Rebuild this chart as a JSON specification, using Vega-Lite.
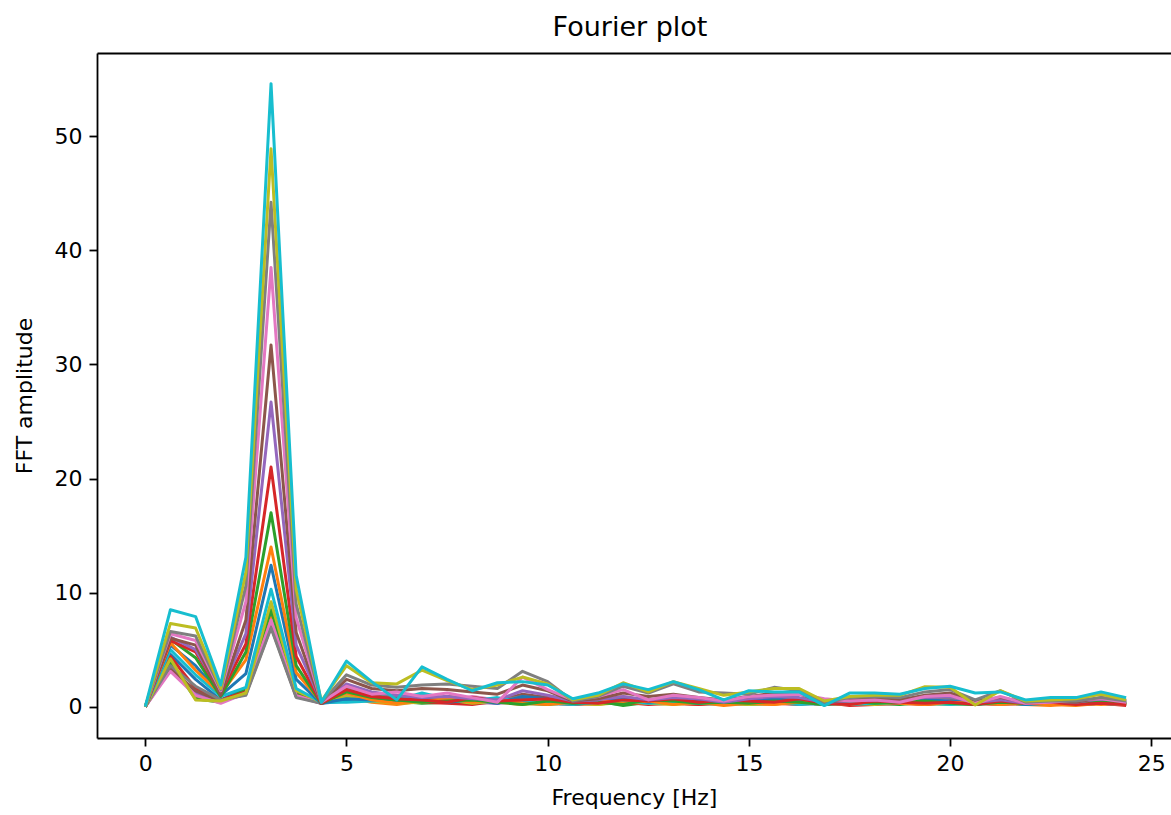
{
"$schema":"https://vega.github.io/schema/vega-lite/v6.json",
"width":1074,"height":685,
"autosize":{"type":"none"},
"padding":{"left":97,"top":53,"right":0,"bottom":77},
"background":"white",
"title":{"text":"Fourier plot","font":"DejaVu Sans","fontSize":27,"fontWeight":"normal","color":"#000","offset":11,"dx":-4},
"data":{"values":[
{"run":1,"freq":0,"amp":0},{"run":1,"freq":0.625,"amp":4.6},{"run":1,"freq":1.25,"amp":2.4},{"run":1,"freq":1.875,"amp":0.6},{"run":1,"freq":2.5,"amp":1.6},{"run":1,"freq":3.125,"amp":8.0},{"run":1,"freq":3.75,"amp":1.3},{"run":1,"freq":4.375,"amp":0.3},
{"run":1,"freq":5,"amp":0.5},{"run":1,"freq":5.625,"amp":0.7},{"run":1,"freq":6.25,"amp":0.3},{"run":1,"freq":6.875,"amp":0.6},{"run":1,"freq":7.5,"amp":0.4},{"run":1,"freq":8.125,"amp":0.5},{"run":1,"freq":8.75,"amp":0.3},{"run":1,"freq":9.375,"amp":0.8},
{"run":1,"freq":10,"amp":0.5},{"run":1,"freq":10.625,"amp":0.2},{"run":1,"freq":11.25,"amp":0.4},{"run":1,"freq":11.875,"amp":0.6},{"run":1,"freq":12.5,"amp":0.3},{"run":1,"freq":13.125,"amp":0.5},{"run":1,"freq":13.75,"amp":0.4},{"run":1,"freq":14.375,"amp":0.2},
{"run":1,"freq":15,"amp":0.5},{"run":1,"freq":15.625,"amp":0.6},{"run":1,"freq":16.25,"amp":0.4},{"run":1,"freq":16.875,"amp":0.2},{"run":1,"freq":17.5,"amp":0.3},{"run":1,"freq":18.125,"amp":0.4},{"run":1,"freq":18.75,"amp":0.3},{"run":1,"freq":19.375,"amp":0.5},
{"run":1,"freq":20,"amp":0.6},{"run":1,"freq":20.625,"amp":0.2},{"run":1,"freq":21.25,"amp":0.4},{"run":1,"freq":21.875,"amp":0.2},{"run":1,"freq":22.5,"amp":0.3},{"run":1,"freq":23.125,"amp":0.3},{"run":1,"freq":23.75,"amp":0.5},{"run":1,"freq":24.375,"amp":0.3},
{"run":2,"freq":0,"amp":0},{"run":2,"freq":0.625,"amp":4.0},{"run":2,"freq":1.25,"amp":0.8},{"run":2,"freq":1.875,"amp":0.5},{"run":2,"freq":2.5,"amp":1.4},{"run":2,"freq":3.125,"amp":7.8},{"run":2,"freq":3.75,"amp":1.1},{"run":2,"freq":4.375,"amp":0.4},
{"run":2,"freq":5,"amp":0.8},{"run":2,"freq":5.625,"amp":0.4},{"run":2,"freq":6.25,"amp":0.2},{"run":2,"freq":6.875,"amp":0.5},{"run":2,"freq":7.5,"amp":0.6},{"run":2,"freq":8.125,"amp":0.3},{"run":2,"freq":8.75,"amp":0.4},{"run":2,"freq":9.375,"amp":0.2},
{"run":2,"freq":10,"amp":0.6},{"run":2,"freq":10.625,"amp":0.3},{"run":2,"freq":11.25,"amp":0.2},{"run":2,"freq":11.875,"amp":0.5},{"run":2,"freq":12.5,"amp":0.4},{"run":2,"freq":13.125,"amp":0.3},{"run":2,"freq":13.75,"amp":0.2},{"run":2,"freq":14.375,"amp":0.4},
{"run":2,"freq":15,"amp":0.3},{"run":2,"freq":15.625,"amp":0.2},{"run":2,"freq":16.25,"amp":0.5},{"run":2,"freq":16.875,"amp":0.3},{"run":2,"freq":17.5,"amp":0.2},{"run":2,"freq":18.125,"amp":0.3},{"run":2,"freq":18.75,"amp":0.4},{"run":2,"freq":19.375,"amp":0.2},
{"run":2,"freq":20,"amp":0.3},{"run":2,"freq":20.625,"amp":0.4},{"run":2,"freq":21.25,"amp":0.3},{"run":2,"freq":21.875,"amp":0.2},{"run":2,"freq":22.5,"amp":0.1},{"run":2,"freq":23.125,"amp":0.3},{"run":2,"freq":23.75,"amp":0.2},{"run":2,"freq":24.375,"amp":0.3},
{"run":3,"freq":0,"amp":0},{"run":3,"freq":0.625,"amp":3.8},{"run":3,"freq":1.25,"amp":0.7},{"run":3,"freq":1.875,"amp":0.4},{"run":3,"freq":2.5,"amp":1.5},{"run":3,"freq":3.125,"amp":8.5},{"run":3,"freq":3.75,"amp":1.2},{"run":3,"freq":4.375,"amp":0.3},
{"run":3,"freq":5,"amp":0.9},{"run":3,"freq":5.625,"amp":0.6},{"run":3,"freq":6.25,"amp":0.5},{"run":3,"freq":6.875,"amp":0.3},{"run":3,"freq":7.5,"amp":0.4},{"run":3,"freq":8.125,"amp":0.7},{"run":3,"freq":8.75,"amp":0.5},{"run":3,"freq":9.375,"amp":0.3},
{"run":3,"freq":10,"amp":0.2},{"run":3,"freq":10.625,"amp":0.4},{"run":3,"freq":11.25,"amp":0.5},{"run":3,"freq":11.875,"amp":0.1},{"run":3,"freq":12.5,"amp":0.4},{"run":3,"freq":13.125,"amp":0.3},{"run":3,"freq":13.75,"amp":0.5},{"run":3,"freq":14.375,"amp":0.4},
{"run":3,"freq":15,"amp":0.2},{"run":3,"freq":15.625,"amp":0.3},{"run":3,"freq":16.25,"amp":0.4},{"run":3,"freq":16.875,"amp":0.2},{"run":3,"freq":17.5,"amp":0.4},{"run":3,"freq":18.125,"amp":0.3},{"run":3,"freq":18.75,"amp":0.2},{"run":3,"freq":19.375,"amp":0.4},
{"run":3,"freq":20,"amp":0.3},{"run":3,"freq":20.625,"amp":0.2},{"run":3,"freq":21.25,"amp":0.5},{"run":3,"freq":21.875,"amp":0.3},{"run":3,"freq":22.5,"amp":0.4},{"run":3,"freq":23.125,"amp":0.2},{"run":3,"freq":23.75,"amp":0.3},{"run":3,"freq":24.375,"amp":0.2},
{"run":4,"freq":0,"amp":0},{"run":4,"freq":0.625,"amp":4.4},{"run":4,"freq":1.25,"amp":1.6},{"run":4,"freq":1.875,"amp":0.6},{"run":4,"freq":2.5,"amp":1.3},{"run":4,"freq":3.125,"amp":7.4},{"run":4,"freq":3.75,"amp":1.0},{"run":4,"freq":4.375,"amp":0.3},
{"run":4,"freq":5,"amp":1.0},{"run":4,"freq":5.625,"amp":0.8},{"run":4,"freq":6.25,"amp":0.6},{"run":4,"freq":6.875,"amp":0.4},{"run":4,"freq":7.5,"amp":0.3},{"run":4,"freq":8.125,"amp":0.2},{"run":4,"freq":8.75,"amp":0.5},{"run":4,"freq":9.375,"amp":0.4},
{"run":4,"freq":10,"amp":0.3},{"run":4,"freq":10.625,"amp":0.2},{"run":4,"freq":11.25,"amp":0.3},{"run":4,"freq":11.875,"amp":0.4},{"run":4,"freq":12.5,"amp":0.2},{"run":4,"freq":13.125,"amp":0.3},{"run":4,"freq":13.75,"amp":0.2},{"run":4,"freq":14.375,"amp":0.3},
{"run":4,"freq":15,"amp":0.4},{"run":4,"freq":15.625,"amp":0.3},{"run":4,"freq":16.25,"amp":0.2},{"run":4,"freq":16.875,"amp":0.4},{"run":4,"freq":17.5,"amp":0.1},{"run":4,"freq":18.125,"amp":0.2},{"run":4,"freq":18.75,"amp":0.3},{"run":4,"freq":19.375,"amp":0.2},
{"run":4,"freq":20,"amp":0.4},{"run":4,"freq":20.625,"amp":0.3},{"run":4,"freq":21.25,"amp":0.2},{"run":4,"freq":21.875,"amp":0.4},{"run":4,"freq":22.5,"amp":0.3},{"run":4,"freq":23.125,"amp":0.2},{"run":4,"freq":23.75,"amp":0.3},{"run":4,"freq":24.375,"amp":0.1},
{"run":5,"freq":0,"amp":0},{"run":5,"freq":0.625,"amp":3.5},{"run":5,"freq":1.25,"amp":1.2},{"run":5,"freq":1.875,"amp":0.4},{"run":5,"freq":2.5,"amp":1.2},{"run":5,"freq":3.125,"amp":7.2},{"run":5,"freq":3.75,"amp":0.9},{"run":5,"freq":4.375,"amp":0.3},
{"run":5,"freq":5,"amp":1.2},{"run":5,"freq":5.625,"amp":0.9},{"run":5,"freq":6.25,"amp":0.7},{"run":5,"freq":6.875,"amp":0.5},{"run":5,"freq":7.5,"amp":0.6},{"run":5,"freq":8.125,"amp":0.4},{"run":5,"freq":8.75,"amp":0.3},{"run":5,"freq":9.375,"amp":0.5},
{"run":5,"freq":10,"amp":0.4},{"run":5,"freq":10.625,"amp":0.3},{"run":5,"freq":11.25,"amp":0.5},{"run":5,"freq":11.875,"amp":0.6},{"run":5,"freq":12.5,"amp":0.3},{"run":5,"freq":13.125,"amp":0.4},{"run":5,"freq":13.75,"amp":0.5},{"run":5,"freq":14.375,"amp":0.2},
{"run":5,"freq":15,"amp":0.3},{"run":5,"freq":15.625,"amp":0.4},{"run":5,"freq":16.25,"amp":0.3},{"run":5,"freq":16.875,"amp":0.2},{"run":5,"freq":17.5,"amp":0.3},{"run":5,"freq":18.125,"amp":0.4},{"run":5,"freq":18.75,"amp":0.5},{"run":5,"freq":19.375,"amp":0.3},
{"run":5,"freq":20,"amp":0.4},{"run":5,"freq":20.625,"amp":0.3},{"run":5,"freq":21.25,"amp":0.2},{"run":5,"freq":21.875,"amp":0.3},{"run":5,"freq":22.5,"amp":0.4},{"run":5,"freq":23.125,"amp":0.2},{"run":5,"freq":23.75,"amp":0.3},{"run":5,"freq":24.375,"amp":0.2},
{"run":6,"freq":0,"amp":0},{"run":6,"freq":0.625,"amp":3.3},{"run":6,"freq":1.25,"amp":1.4},{"run":6,"freq":1.875,"amp":0.5},{"run":6,"freq":2.5,"amp":1.1},{"run":6,"freq":3.125,"amp":7.0},{"run":6,"freq":3.75,"amp":0.9},{"run":6,"freq":4.375,"amp":0.4},
{"run":6,"freq":5,"amp":1.4},{"run":6,"freq":5.625,"amp":1.0},{"run":6,"freq":6.25,"amp":0.8},{"run":6,"freq":6.875,"amp":0.6},{"run":6,"freq":7.5,"amp":0.9},{"run":6,"freq":8.125,"amp":0.7},{"run":6,"freq":8.75,"amp":0.5},{"run":6,"freq":9.375,"amp":1.1},
{"run":6,"freq":10,"amp":0.8},{"run":6,"freq":10.625,"amp":0.4},{"run":6,"freq":11.25,"amp":0.5},{"run":6,"freq":11.875,"amp":0.7},{"run":6,"freq":12.5,"amp":0.6},{"run":6,"freq":13.125,"amp":0.5},{"run":6,"freq":13.75,"amp":0.4},{"run":6,"freq":14.375,"amp":0.3},
{"run":6,"freq":15,"amp":0.6},{"run":6,"freq":15.625,"amp":0.7},{"run":6,"freq":16.25,"amp":0.5},{"run":6,"freq":16.875,"amp":0.3},{"run":6,"freq":17.5,"amp":0.4},{"run":6,"freq":18.125,"amp":0.5},{"run":6,"freq":18.75,"amp":0.4},{"run":6,"freq":19.375,"amp":0.6},
{"run":6,"freq":20,"amp":0.7},{"run":6,"freq":20.625,"amp":0.3},{"run":6,"freq":21.25,"amp":0.5},{"run":6,"freq":21.875,"amp":0.3},{"run":6,"freq":22.5,"amp":0.4},{"run":6,"freq":23.125,"amp":0.3},{"run":6,"freq":23.75,"amp":0.5},{"run":6,"freq":24.375,"amp":0.4},
{"run":7,"freq":0,"amp":0},{"run":7,"freq":0.625,"amp":3.1},{"run":7,"freq":1.25,"amp":1.0},{"run":7,"freq":1.875,"amp":0.3},{"run":7,"freq":2.5,"amp":1.2},{"run":7,"freq":3.125,"amp":7.6},{"run":7,"freq":3.75,"amp":1.0},{"run":7,"freq":4.375,"amp":0.3},
{"run":7,"freq":5,"amp":1.1},{"run":7,"freq":5.625,"amp":0.6},{"run":7,"freq":6.25,"amp":0.4},{"run":7,"freq":6.875,"amp":1.1},{"run":7,"freq":7.5,"amp":0.5},{"run":7,"freq":8.125,"amp":0.9},{"run":7,"freq":8.75,"amp":0.6},{"run":7,"freq":9.375,"amp":0.3},
{"run":7,"freq":10,"amp":0.7},{"run":7,"freq":10.625,"amp":0.4},{"run":7,"freq":11.25,"amp":0.6},{"run":7,"freq":11.875,"amp":0.9},{"run":7,"freq":12.5,"amp":0.5},{"run":7,"freq":13.125,"amp":0.7},{"run":7,"freq":13.75,"amp":0.4},{"run":7,"freq":14.375,"amp":0.3},
{"run":7,"freq":15,"amp":0.5},{"run":7,"freq":15.625,"amp":0.8},{"run":7,"freq":16.25,"amp":0.6},{"run":7,"freq":16.875,"amp":0.4},{"run":7,"freq":17.5,"amp":0.5},{"run":7,"freq":18.125,"amp":0.3},{"run":7,"freq":18.75,"amp":0.6},{"run":7,"freq":19.375,"amp":0.7},
{"run":7,"freq":20,"amp":0.5},{"run":7,"freq":20.625,"amp":0.4},{"run":7,"freq":21.25,"amp":0.6},{"run":7,"freq":21.875,"amp":0.3},{"run":7,"freq":22.5,"amp":0.4},{"run":7,"freq":23.125,"amp":0.6},{"run":7,"freq":23.75,"amp":0.5},{"run":7,"freq":24.375,"amp":0.3},
{"run":8,"freq":0,"amp":0},{"run":8,"freq":0.625,"amp":3.6},{"run":8,"freq":1.25,"amp":1.8},{"run":8,"freq":1.875,"amp":0.6},{"run":8,"freq":2.5,"amp":1.0},{"run":8,"freq":3.125,"amp":6.9},{"run":8,"freq":3.75,"amp":0.8},{"run":8,"freq":4.375,"amp":0.3},
{"run":8,"freq":5,"amp":1.6},{"run":8,"freq":5.625,"amp":1.2},{"run":8,"freq":6.25,"amp":0.9},{"run":8,"freq":6.875,"amp":0.7},{"run":8,"freq":7.5,"amp":0.6},{"run":8,"freq":8.125,"amp":0.8},{"run":8,"freq":8.75,"amp":0.5},{"run":8,"freq":9.375,"amp":0.9},
{"run":8,"freq":10,"amp":0.6},{"run":8,"freq":10.625,"amp":0.3},{"run":8,"freq":11.25,"amp":0.5},{"run":8,"freq":11.875,"amp":0.8},{"run":8,"freq":12.5,"amp":0.5},{"run":8,"freq":13.125,"amp":0.6},{"run":8,"freq":13.75,"amp":0.5},{"run":8,"freq":14.375,"amp":0.4},
{"run":8,"freq":15,"amp":0.6},{"run":8,"freq":15.625,"amp":0.8},{"run":8,"freq":16.25,"amp":0.7},{"run":8,"freq":16.875,"amp":0.3},{"run":8,"freq":17.5,"amp":0.5},{"run":8,"freq":18.125,"amp":0.6},{"run":8,"freq":18.75,"amp":0.5},{"run":8,"freq":19.375,"amp":0.7},
{"run":8,"freq":20,"amp":0.8},{"run":8,"freq":20.625,"amp":0.4},{"run":8,"freq":21.25,"amp":0.6},{"run":8,"freq":21.875,"amp":0.3},{"run":8,"freq":22.5,"amp":0.4},{"run":8,"freq":23.125,"amp":0.4},{"run":8,"freq":23.75,"amp":0.6},{"run":8,"freq":24.375,"amp":0.4},
{"run":9,"freq":0,"amp":0},{"run":9,"freq":0.625,"amp":4.2},{"run":9,"freq":1.25,"amp":0.6},{"run":9,"freq":1.875,"amp":0.5},{"run":9,"freq":2.5,"amp":1.2},{"run":9,"freq":3.125,"amp":9.2},{"run":9,"freq":3.75,"amp":1.4},{"run":9,"freq":4.375,"amp":0.4},
{"run":9,"freq":5,"amp":0.9},{"run":9,"freq":5.625,"amp":0.5},{"run":9,"freq":6.25,"amp":0.3},{"run":9,"freq":6.875,"amp":0.4},{"run":9,"freq":7.5,"amp":0.6},{"run":9,"freq":8.125,"amp":0.3},{"run":9,"freq":8.75,"amp":0.5},{"run":9,"freq":9.375,"amp":0.2},
{"run":9,"freq":10,"amp":0.4},{"run":9,"freq":10.625,"amp":0.3},{"run":9,"freq":11.25,"amp":0.2},{"run":9,"freq":11.875,"amp":0.4},{"run":9,"freq":12.5,"amp":0.3},{"run":9,"freq":13.125,"amp":0.2},{"run":9,"freq":13.75,"amp":0.4},{"run":9,"freq":14.375,"amp":0.3},
{"run":9,"freq":15,"amp":0.2},{"run":9,"freq":15.625,"amp":0.3},{"run":9,"freq":16.25,"amp":0.4},{"run":9,"freq":16.875,"amp":0.2},{"run":9,"freq":17.5,"amp":0.3},{"run":9,"freq":18.125,"amp":0.2},{"run":9,"freq":18.75,"amp":0.4},{"run":9,"freq":19.375,"amp":0.3},
{"run":9,"freq":20,"amp":0.2},{"run":9,"freq":20.625,"amp":0.3},{"run":9,"freq":21.25,"amp":0.4},{"run":9,"freq":21.875,"amp":0.2},{"run":9,"freq":22.5,"amp":0.3},{"run":9,"freq":23.125,"amp":0.2},{"run":9,"freq":23.75,"amp":0.4},{"run":9,"freq":24.375,"amp":0.3},
{"run":10,"freq":0,"amp":0},{"run":10,"freq":0.625,"amp":5.0},{"run":10,"freq":1.25,"amp":2.8},{"run":10,"freq":1.875,"amp":0.9},{"run":10,"freq":2.5,"amp":1.7},{"run":10,"freq":3.125,"amp":10.3},{"run":10,"freq":3.75,"amp":1.6},{"run":10,"freq":4.375,"amp":0.4},
{"run":10,"freq":5,"amp":0.4},{"run":10,"freq":5.625,"amp":0.5},{"run":10,"freq":6.25,"amp":0.6},{"run":10,"freq":6.875,"amp":1.2},{"run":10,"freq":7.5,"amp":0.7},{"run":10,"freq":8.125,"amp":0.5},{"run":10,"freq":8.75,"amp":0.8},{"run":10,"freq":9.375,"amp":0.4},
{"run":10,"freq":10,"amp":0.3},{"run":10,"freq":10.625,"amp":0.2},{"run":10,"freq":11.25,"amp":0.4},{"run":10,"freq":11.875,"amp":0.5},{"run":10,"freq":12.5,"amp":0.3},{"run":10,"freq":13.125,"amp":0.4},{"run":10,"freq":13.75,"amp":0.3},{"run":10,"freq":14.375,"amp":0.2},
{"run":10,"freq":15,"amp":0.3},{"run":10,"freq":15.625,"amp":0.4},{"run":10,"freq":16.25,"amp":0.2},{"run":10,"freq":16.875,"amp":0.3},{"run":10,"freq":17.5,"amp":0.2},{"run":10,"freq":18.125,"amp":0.3},{"run":10,"freq":18.75,"amp":0.4},{"run":10,"freq":19.375,"amp":0.3},
{"run":10,"freq":20,"amp":0.2},{"run":10,"freq":20.625,"amp":0.3},{"run":10,"freq":21.25,"amp":0.4},{"run":10,"freq":21.875,"amp":0.2},{"run":10,"freq":22.5,"amp":0.3},{"run":10,"freq":23.125,"amp":0.2},{"run":10,"freq":23.75,"amp":0.3},{"run":10,"freq":24.375,"amp":0.2},
{"run":11,"freq":0,"amp":0},{"run":11,"freq":0.625,"amp":5.4},{"run":11,"freq":1.25,"amp":3.6},{"run":11,"freq":1.875,"amp":1.0},{"run":11,"freq":2.5,"amp":2.9},{"run":11,"freq":3.125,"amp":12.4},{"run":11,"freq":3.75,"amp":2.4},{"run":11,"freq":4.375,"amp":0.3},
{"run":11,"freq":5,"amp":0.7},{"run":11,"freq":5.625,"amp":0.6},{"run":11,"freq":6.25,"amp":0.5},{"run":11,"freq":6.875,"amp":0.8},{"run":11,"freq":7.5,"amp":0.4},{"run":11,"freq":8.125,"amp":0.6},{"run":11,"freq":8.75,"amp":0.3},{"run":11,"freq":9.375,"amp":0.9},
{"run":11,"freq":10,"amp":0.7},{"run":11,"freq":10.625,"amp":0.3},{"run":11,"freq":11.25,"amp":0.5},{"run":11,"freq":11.875,"amp":0.7},{"run":11,"freq":12.5,"amp":0.4},{"run":11,"freq":13.125,"amp":0.6},{"run":11,"freq":13.75,"amp":0.5},{"run":11,"freq":14.375,"amp":0.3},
{"run":11,"freq":15,"amp":0.6},{"run":11,"freq":15.625,"amp":0.7},{"run":11,"freq":16.25,"amp":0.5},{"run":11,"freq":16.875,"amp":0.2},{"run":11,"freq":17.5,"amp":0.4},{"run":11,"freq":18.125,"amp":0.5},{"run":11,"freq":18.75,"amp":0.3},{"run":11,"freq":19.375,"amp":0.6},
{"run":11,"freq":20,"amp":0.5},{"run":11,"freq":20.625,"amp":0.3},{"run":11,"freq":21.25,"amp":0.4},{"run":11,"freq":21.875,"amp":0.2},{"run":11,"freq":22.5,"amp":0.3},{"run":11,"freq":23.125,"amp":0.3},{"run":11,"freq":23.75,"amp":0.5},{"run":11,"freq":24.375,"amp":0.3},
{"run":12,"freq":0,"amp":0},{"run":12,"freq":0.625,"amp":5.6},{"run":12,"freq":1.25,"amp":3.2},{"run":12,"freq":1.875,"amp":1.1},{"run":12,"freq":2.5,"amp":4.1},{"run":12,"freq":3.125,"amp":14.0},{"run":12,"freq":3.75,"amp":3.0},{"run":12,"freq":4.375,"amp":0.4},
{"run":12,"freq":5,"amp":1.2},{"run":12,"freq":5.625,"amp":0.6},{"run":12,"freq":6.25,"amp":0.3},{"run":12,"freq":6.875,"amp":0.5},{"run":12,"freq":7.5,"amp":0.7},{"run":12,"freq":8.125,"amp":0.4},{"run":12,"freq":8.75,"amp":0.6},{"run":12,"freq":9.375,"amp":0.3},
{"run":12,"freq":10,"amp":0.2},{"run":12,"freq":10.625,"amp":0.4},{"run":12,"freq":11.25,"amp":0.6},{"run":12,"freq":11.875,"amp":0.3},{"run":12,"freq":12.5,"amp":0.5},{"run":12,"freq":13.125,"amp":0.2},{"run":12,"freq":13.75,"amp":0.4},{"run":12,"freq":14.375,"amp":0.1},
{"run":12,"freq":15,"amp":0.3},{"run":12,"freq":15.625,"amp":0.2},{"run":12,"freq":16.25,"amp":0.4},{"run":12,"freq":16.875,"amp":0.3},{"run":12,"freq":17.5,"amp":0.2},{"run":12,"freq":18.125,"amp":0.5},{"run":12,"freq":18.75,"amp":0.3},{"run":12,"freq":19.375,"amp":0.2},
{"run":12,"freq":20,"amp":0.4},{"run":12,"freq":20.625,"amp":0.3},{"run":12,"freq":21.25,"amp":0.2},{"run":12,"freq":21.875,"amp":0.3},{"run":12,"freq":22.5,"amp":0.2},{"run":12,"freq":23.125,"amp":0.1},{"run":12,"freq":23.75,"amp":0.3},{"run":12,"freq":24.375,"amp":0.2},
{"run":13,"freq":0,"amp":0},{"run":13,"freq":0.625,"amp":5.9},{"run":13,"freq":1.25,"amp":4.3},{"run":13,"freq":1.875,"amp":0.9},{"run":13,"freq":2.5,"amp":4.8},{"run":13,"freq":3.125,"amp":17.0},{"run":13,"freq":3.75,"amp":3.6},{"run":13,"freq":4.375,"amp":0.3},
{"run":13,"freq":5,"amp":1.3},{"run":13,"freq":5.625,"amp":0.8},{"run":13,"freq":6.25,"amp":0.6},{"run":13,"freq":6.875,"amp":0.4},{"run":13,"freq":7.5,"amp":0.5},{"run":13,"freq":8.125,"amp":0.6},{"run":13,"freq":8.75,"amp":0.4},{"run":13,"freq":9.375,"amp":0.2},
{"run":13,"freq":10,"amp":0.5},{"run":13,"freq":10.625,"amp":0.3},{"run":13,"freq":11.25,"amp":0.4},{"run":13,"freq":11.875,"amp":0.2},{"run":13,"freq":12.5,"amp":0.6},{"run":13,"freq":13.125,"amp":0.5},{"run":13,"freq":13.75,"amp":0.3},{"run":13,"freq":14.375,"amp":0.4},
{"run":13,"freq":15,"amp":0.3},{"run":13,"freq":15.625,"amp":0.5},{"run":13,"freq":16.25,"amp":0.4},{"run":13,"freq":16.875,"amp":0.2},{"run":13,"freq":17.5,"amp":0.5},{"run":13,"freq":18.125,"amp":0.3},{"run":13,"freq":18.75,"amp":0.4},{"run":13,"freq":19.375,"amp":0.5},
{"run":13,"freq":20,"amp":0.3},{"run":13,"freq":20.625,"amp":0.2},{"run":13,"freq":21.25,"amp":0.4},{"run":13,"freq":21.875,"amp":0.3},{"run":13,"freq":22.5,"amp":0.5},{"run":13,"freq":23.125,"amp":0.3},{"run":13,"freq":23.75,"amp":0.4},{"run":13,"freq":24.375,"amp":0.3},
{"run":14,"freq":0,"amp":0},{"run":14,"freq":0.625,"amp":5.8},{"run":14,"freq":1.25,"amp":4.8},{"run":14,"freq":1.875,"amp":1.2},{"run":14,"freq":2.5,"amp":5.5},{"run":14,"freq":3.125,"amp":21.0},{"run":14,"freq":3.75,"amp":4.4},{"run":14,"freq":4.375,"amp":0.3},
{"run":14,"freq":5,"amp":1.5},{"run":14,"freq":5.625,"amp":0.9},{"run":14,"freq":6.25,"amp":0.7},{"run":14,"freq":6.875,"amp":0.6},{"run":14,"freq":7.5,"amp":0.4},{"run":14,"freq":8.125,"amp":0.8},{"run":14,"freq":8.75,"amp":0.5},{"run":14,"freq":9.375,"amp":0.6},
{"run":14,"freq":10,"amp":0.7},{"run":14,"freq":10.625,"amp":0.4},{"run":14,"freq":11.25,"amp":0.3},{"run":14,"freq":11.875,"amp":0.6},{"run":14,"freq":12.5,"amp":0.5},{"run":14,"freq":13.125,"amp":0.7},{"run":14,"freq":13.75,"amp":0.4},{"run":14,"freq":14.375,"amp":0.6},
{"run":14,"freq":15,"amp":0.5},{"run":14,"freq":15.625,"amp":0.4},{"run":14,"freq":16.25,"amp":0.7},{"run":14,"freq":16.875,"amp":0.3},{"run":14,"freq":17.5,"amp":0.2},{"run":14,"freq":18.125,"amp":0.5},{"run":14,"freq":18.75,"amp":0.4},{"run":14,"freq":19.375,"amp":0.3},
{"run":14,"freq":20,"amp":0.4},{"run":14,"freq":20.625,"amp":0.2},{"run":14,"freq":21.25,"amp":0.5},{"run":14,"freq":21.875,"amp":0.3},{"run":14,"freq":22.5,"amp":0.4},{"run":14,"freq":23.125,"amp":0.2},{"run":14,"freq":23.75,"amp":0.3},{"run":14,"freq":24.375,"amp":0.2},
{"run":15,"freq":0,"amp":0},{"run":15,"freq":0.625,"amp":6.1},{"run":15,"freq":1.25,"amp":5.0},{"run":15,"freq":1.875,"amp":1.3},{"run":15,"freq":2.5,"amp":6.4},{"run":15,"freq":3.125,"amp":26.7},{"run":15,"freq":3.75,"amp":5.4},{"run":15,"freq":4.375,"amp":0.4},
{"run":15,"freq":5,"amp":2.0},{"run":15,"freq":5.625,"amp":1.3},{"run":15,"freq":6.25,"amp":1.0},{"run":15,"freq":6.875,"amp":0.8},{"run":15,"freq":7.5,"amp":0.9},{"run":15,"freq":8.125,"amp":0.7},{"run":15,"freq":8.75,"amp":0.6},{"run":15,"freq":9.375,"amp":1.4},
{"run":15,"freq":10,"amp":1.0},{"run":15,"freq":10.625,"amp":0.5},{"run":15,"freq":11.25,"amp":0.6},{"run":15,"freq":11.875,"amp":0.9},{"run":15,"freq":12.5,"amp":0.6},{"run":15,"freq":13.125,"amp":0.8},{"run":15,"freq":13.75,"amp":0.7},{"run":15,"freq":14.375,"amp":0.4},
{"run":15,"freq":15,"amp":0.7},{"run":15,"freq":15.625,"amp":0.9},{"run":15,"freq":16.25,"amp":0.8},{"run":15,"freq":16.875,"amp":0.4},{"run":15,"freq":17.5,"amp":0.5},{"run":15,"freq":18.125,"amp":0.6},{"run":15,"freq":18.75,"amp":0.7},{"run":15,"freq":19.375,"amp":0.8},
{"run":15,"freq":20,"amp":0.9},{"run":15,"freq":20.625,"amp":0.4},{"run":15,"freq":21.25,"amp":0.6},{"run":15,"freq":21.875,"amp":0.3},{"run":15,"freq":22.5,"amp":0.5},{"run":15,"freq":23.125,"amp":0.4},{"run":15,"freq":23.75,"amp":0.7},{"run":15,"freq":24.375,"amp":0.5},
{"run":16,"freq":0,"amp":0},{"run":16,"freq":0.625,"amp":6.0},{"run":16,"freq":1.25,"amp":5.4},{"run":16,"freq":1.875,"amp":1.0},{"run":16,"freq":2.5,"amp":7.6},{"run":16,"freq":3.125,"amp":31.7},{"run":16,"freq":3.75,"amp":6.5},{"run":16,"freq":4.375,"amp":0.3},
{"run":16,"freq":5,"amp":2.4},{"run":16,"freq":5.625,"amp":1.6},{"run":16,"freq":6.25,"amp":1.4},{"run":16,"freq":6.875,"amp":1.6},{"run":16,"freq":7.5,"amp":1.5},{"run":16,"freq":8.125,"amp":1.3},{"run":16,"freq":8.75,"amp":1.1},{"run":16,"freq":9.375,"amp":1.9},
{"run":16,"freq":10,"amp":1.4},{"run":16,"freq":10.625,"amp":0.5},{"run":16,"freq":11.25,"amp":0.7},{"run":16,"freq":11.875,"amp":1.2},{"run":16,"freq":12.5,"amp":0.9},{"run":16,"freq":13.125,"amp":1.1},{"run":16,"freq":13.75,"amp":0.8},{"run":16,"freq":14.375,"amp":0.6},
{"run":16,"freq":15,"amp":0.9},{"run":16,"freq":15.625,"amp":1.2},{"run":16,"freq":16.25,"amp":1.1},{"run":16,"freq":16.875,"amp":0.4},{"run":16,"freq":17.5,"amp":0.6},{"run":16,"freq":18.125,"amp":0.7},{"run":16,"freq":18.75,"amp":0.6},{"run":16,"freq":19.375,"amp":1.0},
{"run":16,"freq":20,"amp":1.2},{"run":16,"freq":20.625,"amp":0.5},{"run":16,"freq":21.25,"amp":0.8},{"run":16,"freq":21.875,"amp":0.4},{"run":16,"freq":22.5,"amp":0.5},{"run":16,"freq":23.125,"amp":0.4},{"run":16,"freq":23.75,"amp":0.8},{"run":16,"freq":24.375,"amp":0.5},
{"run":17,"freq":0,"amp":0},{"run":17,"freq":0.625,"amp":6.4},{"run":17,"freq":1.25,"amp":5.8},{"run":17,"freq":1.875,"amp":1.4},{"run":17,"freq":2.5,"amp":9.2},{"run":17,"freq":3.125,"amp":38.5},{"run":17,"freq":3.75,"amp":7.8},{"run":17,"freq":4.375,"amp":0.4},
{"run":17,"freq":5,"amp":1.8},{"run":17,"freq":5.625,"amp":1.1},{"run":17,"freq":6.25,"amp":1.3},{"run":17,"freq":6.875,"amp":0.9},{"run":17,"freq":7.5,"amp":1.2},{"run":17,"freq":8.125,"amp":0.8},{"run":17,"freq":8.75,"amp":0.4},{"run":17,"freq":9.375,"amp":2.6},
{"run":17,"freq":10,"amp":1.5},{"run":17,"freq":10.625,"amp":0.6},{"run":17,"freq":11.25,"amp":0.9},{"run":17,"freq":11.875,"amp":1.5},{"run":17,"freq":12.5,"amp":0.6},{"run":17,"freq":13.125,"amp":1.0},{"run":17,"freq":13.75,"amp":0.8},{"run":17,"freq":14.375,"amp":0.5},
{"run":17,"freq":15,"amp":0.9},{"run":17,"freq":15.625,"amp":1.0},{"run":17,"freq":16.25,"amp":1.1},{"run":17,"freq":16.875,"amp":0.7},{"run":17,"freq":17.5,"amp":0.5},{"run":17,"freq":18.125,"amp":0.6},{"run":17,"freq":18.75,"amp":0.4},{"run":17,"freq":19.375,"amp":0.9},
{"run":17,"freq":20,"amp":1.0},{"run":17,"freq":20.625,"amp":0.3},{"run":17,"freq":21.25,"amp":0.9},{"run":17,"freq":21.875,"amp":0.3},{"run":17,"freq":22.5,"amp":0.4},{"run":17,"freq":23.125,"amp":0.6},{"run":17,"freq":23.75,"amp":0.7},{"run":17,"freq":24.375,"amp":0.4},
{"run":18,"freq":0,"amp":0},{"run":18,"freq":0.625,"amp":6.6},{"run":18,"freq":1.25,"amp":6.2},{"run":18,"freq":1.875,"amp":1.5},{"run":18,"freq":2.5,"amp":10.6},{"run":18,"freq":3.125,"amp":44.2},{"run":18,"freq":3.75,"amp":9.0},{"run":18,"freq":4.375,"amp":0.4},
{"run":18,"freq":5,"amp":2.8},{"run":18,"freq":5.625,"amp":1.9},{"run":18,"freq":6.25,"amp":1.7},{"run":18,"freq":6.875,"amp":1.9},{"run":18,"freq":7.5,"amp":2.0},{"run":18,"freq":8.125,"amp":1.8},{"run":18,"freq":8.75,"amp":1.6},{"run":18,"freq":9.375,"amp":3.1},
{"run":18,"freq":10,"amp":2.2},{"run":18,"freq":10.625,"amp":0.5},{"run":18,"freq":11.25,"amp":0.9},{"run":18,"freq":11.875,"amp":1.8},{"run":18,"freq":12.5,"amp":1.2},{"run":18,"freq":13.125,"amp":2.0},{"run":18,"freq":13.75,"amp":1.3},{"run":18,"freq":14.375,"amp":1.2},
{"run":18,"freq":15,"amp":1.1},{"run":18,"freq":15.625,"amp":1.7},{"run":18,"freq":16.25,"amp":1.4},{"run":18,"freq":16.875,"amp":0.4},{"run":18,"freq":17.5,"amp":0.8},{"run":18,"freq":18.125,"amp":0.9},{"run":18,"freq":18.75,"amp":0.8},{"run":18,"freq":19.375,"amp":1.3},
{"run":18,"freq":20,"amp":1.5},{"run":18,"freq":20.625,"amp":0.6},{"run":18,"freq":21.25,"amp":1.4},{"run":18,"freq":21.875,"amp":0.4},{"run":18,"freq":22.5,"amp":0.5},{"run":18,"freq":23.125,"amp":0.5},{"run":18,"freq":23.75,"amp":0.8},{"run":18,"freq":24.375,"amp":0.5},
{"run":19,"freq":0,"amp":0},{"run":19,"freq":0.625,"amp":7.3},{"run":19,"freq":1.25,"amp":6.9},{"run":19,"freq":1.875,"amp":1.6},{"run":19,"freq":2.5,"amp":11.8},{"run":19,"freq":3.125,"amp":48.9},{"run":19,"freq":3.75,"amp":10.3},{"run":19,"freq":4.375,"amp":0.5},
{"run":19,"freq":5,"amp":3.6},{"run":19,"freq":5.625,"amp":2.1},{"run":19,"freq":6.25,"amp":2.0},{"run":19,"freq":6.875,"amp":3.2},{"run":19,"freq":7.5,"amp":2.3},{"run":19,"freq":8.125,"amp":1.5},{"run":19,"freq":8.75,"amp":1.9},{"run":19,"freq":9.375,"amp":2.6},
{"run":19,"freq":10,"amp":2.0},{"run":19,"freq":10.625,"amp":0.6},{"run":19,"freq":11.25,"amp":1.0},{"run":19,"freq":11.875,"amp":2.1},{"run":19,"freq":12.5,"amp":1.3},{"run":19,"freq":13.125,"amp":2.2},{"run":19,"freq":13.75,"amp":1.6},{"run":19,"freq":14.375,"amp":1.0},
{"run":19,"freq":15,"amp":1.3},{"run":19,"freq":15.625,"amp":1.6},{"run":19,"freq":16.25,"amp":1.6},{"run":19,"freq":16.875,"amp":0.5},{"run":19,"freq":17.5,"amp":0.9},{"run":19,"freq":18.125,"amp":1.0},{"run":19,"freq":18.75,"amp":1.0},{"run":19,"freq":19.375,"amp":1.75},
{"run":19,"freq":20,"amp":1.7},{"run":19,"freq":20.625,"amp":0.15},{"run":19,"freq":21.25,"amp":1.4},{"run":19,"freq":21.875,"amp":0.5},{"run":19,"freq":22.5,"amp":0.6},{"run":19,"freq":23.125,"amp":0.7},{"run":19,"freq":23.75,"amp":1.1},{"run":19,"freq":24.375,"amp":0.6},
{"run":20,"freq":0,"amp":0},{"run":20,"freq":0.625,"amp":8.5},{"run":20,"freq":1.25,"amp":7.9},{"run":20,"freq":1.875,"amp":1.9},{"run":20,"freq":2.5,"amp":13.1},{"run":20,"freq":3.125,"amp":54.6},{"run":20,"freq":3.75,"amp":11.5},{"run":20,"freq":4.375,"amp":0.4},
{"run":20,"freq":5,"amp":4.0},{"run":20,"freq":5.625,"amp":2.2},{"run":20,"freq":6.25,"amp":0.6},{"run":20,"freq":6.875,"amp":3.5},{"run":20,"freq":7.5,"amp":2.4},{"run":20,"freq":8.125,"amp":1.4},{"run":20,"freq":8.75,"amp":2.1},{"run":20,"freq":9.375,"amp":2.2},
{"run":20,"freq":10,"amp":1.9},{"run":20,"freq":10.625,"amp":0.7},{"run":20,"freq":11.25,"amp":1.2},{"run":20,"freq":11.875,"amp":2.0},{"run":20,"freq":12.5,"amp":1.5},{"run":20,"freq":13.125,"amp":2.2},{"run":20,"freq":13.75,"amp":1.5},{"run":20,"freq":14.375,"amp":0.6},
{"run":20,"freq":15,"amp":1.4},{"run":20,"freq":15.625,"amp":1.3},{"run":20,"freq":16.25,"amp":1.3},{"run":20,"freq":16.875,"amp":0.1},{"run":20,"freq":17.5,"amp":1.2},{"run":20,"freq":18.125,"amp":1.2},{"run":20,"freq":18.75,"amp":1.1},{"run":20,"freq":19.375,"amp":1.6},
{"run":20,"freq":20,"amp":1.8},{"run":20,"freq":20.625,"amp":1.2},{"run":20,"freq":21.25,"amp":1.3},{"run":20,"freq":21.875,"amp":0.6},{"run":20,"freq":22.5,"amp":0.8},{"run":20,"freq":23.125,"amp":0.8},{"run":20,"freq":23.75,"amp":1.3},{"run":20,"freq":24.375,"amp":0.8}
]},
"layer":[
{"mark":{"type":"line","strokeWidth":3,"strokeJoin":"round","clip":true},
 "encoding":{
  "x":{"field":"freq","type":"quantitative","scale":{"domain":[-1.2,25.49],"nice":false,"zero":false},
       "axis":{"orient":"bottom","values":[0,5,10,15,20,25],"format":"d","title":"Frequency [Hz]","grid":false}},
  "y":{"field":"amp","type":"quantitative","scale":{"domain":[-2.74,57.29],"nice":false,"zero":false},
       "axis":{"values":[0,10,20,30,40,50],"format":"d","title":"FFT amplitude","grid":false}},
  "color":{"field":"run","type":"nominal","legend":null,
    "scale":{"domain":[1,2,3,4,5,6,7,8,9,10,11,12,13,14,15,16,17,18,19,20],
      "range":["#1f77b4","#ff7f0e","#2ca02c","#d62728","#9467bd","#8c564b","#e377c2","#7f7f7f","#bcbd22","#17becf","#1f77b4","#ff7f0e","#2ca02c","#d62728","#9467bd","#8c564b","#e377c2","#7f7f7f","#bcbd22","#17becf"]}}
 }},
{"mark":{"type":"rule","opacity":0},
 "encoding":{
  "x":{"aggregate":"min","field":"freq","type":"quantitative",
       "axis":{"orient":"top","labels":false,"ticks":false,"title":null,"grid":false,"domain":true}}
 }}
],
"resolve":{"axis":{"x":"independent"}},
"config":{
 "view":{"stroke":null},
 "axis":{"domainColor":"#000","domainWidth":1.8,"tickColor":"#000","tickWidth":1.8,"tickSize":8,
   "labelFont":"DejaVu Sans","labelFontSize":22,"labelColor":"#000","labelPadding":7,
   "titleFont":"DejaVu Sans","titleFontSize":22,"titleFontWeight":"normal","titleColor":"#000"},
 "axisX":{"titlePadding":13},
 "axisY":{"titlePadding":18}
}
}
